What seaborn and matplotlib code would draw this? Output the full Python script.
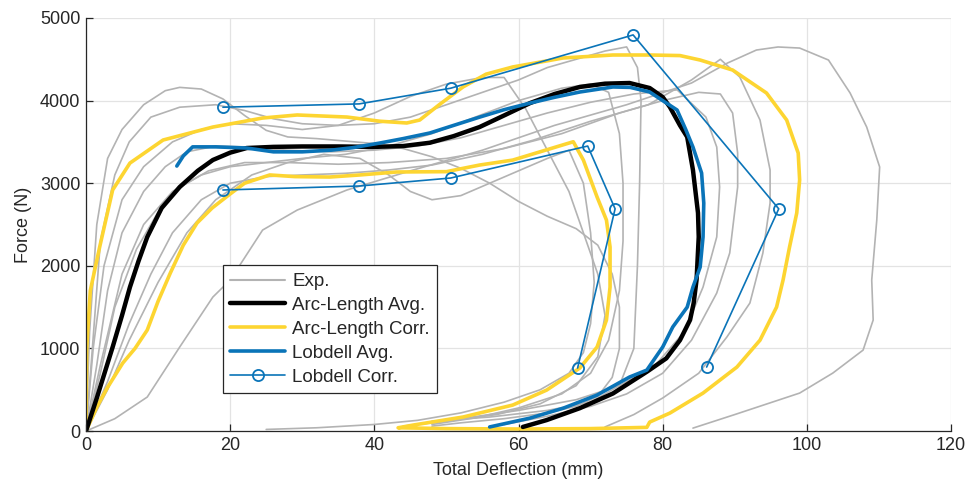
import matplotlib
matplotlib.use("Agg")
import matplotlib.pyplot as plt
import seaborn as sns
import pandas as pd
from matplotlib.lines import Line2D

# ---------------- data ----------------
exp_curves = {
    "G1": ([0, 0.5, 1.5, 3, 5, 8, 11, 13, 16, 19, 22, 25, 28, 32, 36, 40, 44, 48, 52, 56, 60, 64, 68, 71, 73, 74, 74, 73, 71, 68, 64, 58, 52, 48],
           [0, 1200, 2500, 3300, 3650, 3950, 4120, 4160, 4140, 4020, 3820, 3640, 3560, 3540, 3510, 3480, 3420, 3320, 3180, 3000, 2780, 2600, 2450, 2250, 1900, 1500, 1000, 650, 420, 300, 220, 150, 100, 60]),
    "G2": ([0, 0.8, 2, 4, 6, 9, 13, 18, 22, 26, 30, 35, 40, 45, 50, 55, 60, 64, 68, 72, 75, 76.5, 77, 76.8, 76.5, 76, 74, 70, 64, 56, 48],
           [0, 900, 2300, 3100, 3500, 3800, 3920, 3950, 3880, 3780, 3720, 3700, 3720, 3800, 3950, 4100, 4250, 4400, 4500, 4600, 4650, 4400, 4000, 3000, 2000, 1000, 550, 350, 250, 170, 120]),
    "G3": ([0, 1.5, 3, 5, 8, 11, 14, 18, 22, 28, 34, 40, 46, 52, 58, 64, 70, 76, 82, 86, 87.5, 87.9, 87.5, 85.6, 83, 79, 74, 68, 60, 52, 48],
           [0, 800, 1700, 2400, 2900, 3200, 3380, 3450, 3440, 3400, 3380, 3400, 3450, 3550, 3700, 3850, 3980, 4080, 4130, 3800, 3438, 2954, 2350, 1743, 1200, 800, 550, 380, 250, 150, 100]),
    "G4": ([0, 2, 4, 7, 10, 13, 17, 22, 28, 35, 42, 50, 58, 66, 74, 80, 85, 88, 89.7, 90.4, 90.4, 89.3, 87.5, 84, 80, 75, 70, 64, 58],
           [0, 700, 1500, 2200, 2650, 2950, 3150, 3250, 3250, 3230, 3250, 3300, 3420, 3600, 3850, 4000, 4100, 4080, 3850, 3365, 2954, 2155, 1671, 1100, 700, 450, 300, 180, 80]),
    "G5": ([0, 3, 6, 9, 12, 16, 20, 25, 30, 36, 42, 48, 55, 62, 70, 78, 84, 88, 90.7, 93.5, 94.9, 94.9, 93.9, 92.1, 88.9, 85, 80, 76, 72],
           [0, 600, 1300, 1900, 2400, 2800, 3000, 3080, 3100, 3120, 3160, 3220, 3350, 3520, 3750, 3950, 4250, 4500, 4285, 3765, 3160, 2760, 2155, 1550, 1138, 700, 400, 200, 50]),
    "G6": ([0, 3, 6, 10, 14, 18, 23, 28, 33, 38, 42, 45, 48, 52, 56, 60, 64, 67, 69, 70, 70.5, 70, 69, 67, 63, 58, 52, 46, 40, 32, 25],
           [0, 500, 1100, 1800, 2400, 2800, 3100, 3250, 3350, 3300, 3100, 2900, 2800, 2850, 3000, 3150, 3300, 3400, 3000, 2400, 1800, 1300, 950, 700, 500, 350, 220, 130, 80, 40, 20]),
    "G7": ([0, 4, 8.5, 13, 17.6, 20, 24.5, 29.3, 36.2, 45, 55, 65, 75, 84, 89, 93, 96, 99, 103, 106, 108.3, 110.1, 109.7, 109, 109.2, 107.8, 103.6, 99, 90, 84.2],
           [0, 150, 412, 1017, 1622, 1828, 2433, 2675, 2918, 3150, 3400, 3700, 3950, 4213, 4455, 4612, 4649, 4636, 4491, 4092, 3680, 3196, 2554, 1828, 1344, 980, 702, 460, 200, 36]),
    "G8": ([0, 1, 2.5, 5, 8, 12, 16, 20, 25, 30, 35, 40, 45, 50, 55, 58, 61, 64, 67, 69, 71, 72, 71, 68, 63, 57, 50, 44],
           [0, 1000, 2000, 2800, 3200, 3500, 3650, 3720, 3700, 3650, 3700, 3850, 4050, 4200, 4280, 4280, 3900, 3400, 2900, 2400, 1900, 1400, 900, 550, 330, 200, 120, 60]),
    "G9": ([0, 2, 5, 8, 12, 16, 20, 25, 30, 36, 42, 48, 54, 60, 66, 70, 72.5, 74, 74.5, 74.5, 74, 72.5, 70, 66, 60, 54, 48],
           [0, 800, 1900, 2500, 2900, 3100, 3200, 3250, 3300, 3350, 3450, 3600, 3800, 4000, 4150, 4200, 4100, 3600, 3000, 2300, 1700, 1100, 700, 450, 280, 160, 80]),
}

arc_avg_x = [0, 1.5, 3.7, 5, 6.1, 7.3, 8.5, 10.5, 13, 15.5, 17.6, 20, 22.3, 26, 30, 35, 40, 44, 47.7, 51, 54.6, 58, 61.6, 65, 68.5, 72, 75.4, 78.2, 80, 81, 82.4, 83.4, 84.2, 84.9, 85, 84.7, 84.3, 83.8, 82.4, 80.5, 77.8, 73.1, 68.5, 63.9, 60.6]
arc_avg_y = [0, 400, 1017, 1400, 1743, 2060, 2349, 2700, 2954, 3150, 3281, 3370, 3426, 3440, 3445, 3445, 3440, 3450, 3490, 3570, 3680, 3820, 3970, 4080, 4165, 4205, 4213, 4152, 4043, 3922, 3700, 3560, 3160, 2640, 2350, 1830, 1550, 1345, 1100, 880, 718, 455, 277, 133, 50]

arc_corr_x = [0, 0.1, 0.6, 1.9, 3.7, 6.1, 10.7, 17.6, 24.5, 29.3, 36.2, 40.8, 44.5, 46.3, 49, 52.3, 55.5, 59.2, 66.2, 73.1, 78.2, 82.4, 85.2, 89.7, 94.4, 97.2, 98.8, 99, 98.6, 97.6, 96.7, 95.8, 93.5, 90.3, 85.6, 81, 78.2, 77.8, 70, 60, 50, 43.3,
              45.4, 52.3, 59.2, 63.9, 68.5, 70.9, 72.2, 72.7, 72.7, 72.2, 70.9, 69, 67.6, 59.2, 54.6, 50, 43.1, 38, 33.8, 29, 25.5, 22, 20, 17.5, 15.4, 13.5, 11.7, 10, 8.5, 6.8, 5.1, 3, 1.5, 0]
arc_corr_y = [0, 1000, 1700, 2228, 2918, 3244, 3523, 3680, 3789, 3826, 3801, 3750, 3729, 3765, 3950, 4165, 4320, 4407, 4516, 4552, 4552, 4545, 4491, 4370, 4092, 3765, 3365, 3039, 2640, 2228, 1828, 1501, 1100, 775, 460, 218, 109, 45, 30, 25, 30, 40,
              73, 170, 315, 496, 763, 1017, 1344, 1743, 2228, 2554, 2833, 3280, 3502, 3280, 3220, 3140, 3136, 3100, 3075, 3080, 3100, 3000, 2870, 2700, 2518, 2250, 1913, 1570, 1223, 1000, 823, 530, 290, 0]

lob_avg_x = [12.6, 13.5, 14.8, 18, 22.3, 26, 30, 34, 37, 40.8, 44, 47.7, 51, 54.6, 58, 61.6, 65, 68.5, 73.1, 75.5, 78.2, 80, 82, 83.2, 84.2, 85.4, 85.7, 85.6, 85.2, 84.2, 83.4, 81.4, 80, 77.8, 75.4, 70.9, 66.2, 61.6, 56]
lob_avg_y = [3208, 3330, 3440, 3440, 3426, 3380, 3380, 3400, 3430, 3487, 3540, 3608, 3700, 3800, 3890, 3970, 4040, 4104, 4165, 4160, 4104, 4000, 3886, 3650, 3438, 3123, 2760, 2350, 1985, 1743, 1500, 1260, 1017, 738, 654, 436, 277, 157, 50]

lob_corr_upper_x = [19.0, 37.9, 50.6, 75.9, 96.1, 86.1]
lob_corr_upper_y = [3920, 3960, 4150, 4795, 2690, 775]
lob_corr_lower_x = [19.0, 37.9, 50.6, 69.6, 73.4, 68.2]
lob_corr_lower_y = [2918, 2966, 3063, 3450, 2690, 763]

x_ticks = [0, 20, 40, 60, 80, 100, 120]
y_ticks = [0, 1000, 2000, 3000, 4000, 5000]

# ---------------- style ----------------
sns.set_theme(style="whitegrid")
plt.rcParams["font.family"] = ["Liberation Sans", "DejaVu Sans"]

GRAY = "#b3b3b3"
BLACK = "#000000"
YELLOW = "#fdd531"
BLUE = "#0a74b8"

fig = plt.figure(figsize=(9.66, 4.86), dpi=100)
ax = fig.add_axes([0.089, 0.113, 0.8955, 0.85])

def draw(x, y, **kw):
    df = pd.DataFrame({"x": x, "y": y})
    sns.lineplot(data=df, x="x", y="y", sort=False, estimator=None, ax=ax, **kw)

for name, (gx, gy) in exp_curves.items():
    draw(gx, gy, color=GRAY, linewidth=1.2)

draw(arc_corr_x, arc_corr_y, color=YELLOW, linewidth=2.6)
draw(arc_avg_x, arc_avg_y, color=BLACK, linewidth=3.2)
draw(lob_avg_x, lob_avg_y, color=BLUE, linewidth=2.6)
for lx, ly in [(lob_corr_upper_x, lob_corr_upper_y), (lob_corr_lower_x, lob_corr_lower_y)]:
    draw(lx, ly, color=BLUE, linewidth=1.2, marker="o", markersize=8,
         markerfacecolor="none", markeredgecolor=BLUE, markeredgewidth=1.3)

ax.set_xlim(0, 120)
ax.set_ylim(0, 5000)
ax.set_xticks(x_ticks)
ax.set_yticks(y_ticks)
ax.set_xlabel("Total Deflection (mm)", fontsize=13, color="#262626", labelpad=6)
ax.set_ylabel("Force (N)", fontsize=13, color="#262626", labelpad=6)
ax.tick_params(axis="both", direction="in", length=5, width=0.9, colors="#262626",
               labelsize=13, bottom=True, left=True, top=False, right=False, pad=4)
ax.grid(True, color="#e3e3e3", linewidth=0.9)
ax.set_facecolor("white")
for s in ["top", "right"]:
    ax.spines[s].set_visible(False)
for s in ["left", "bottom"]:
    ax.spines[s].set_color("#262626")
    ax.spines[s].set_linewidth(0.9)

handles = [
    Line2D([], [], color=GRAY, linewidth=1.5),
    Line2D([], [], color=BLACK, linewidth=3.2),
    Line2D([], [], color=YELLOW, linewidth=2.6),
    Line2D([], [], color=BLUE, linewidth=2.6),
    Line2D([], [], color=BLUE, linewidth=1.2, marker="o", markersize=8,
           markerfacecolor="none", markeredgewidth=1.3),
]
labels = ["Exp.", "Arc-Length Avg.", "Arc-Length Corr.", "Lobdell Avg.", "Lobdell Corr."]
leg = ax.legend(handles, labels, loc="lower left", bbox_to_anchor=(0.158, 0.092),
                borderaxespad=0, fontsize=13.5, handlelength=2.95, handletextpad=0.35,
                labelspacing=0.36, borderpad=0.4, frameon=True, fancybox=False,
                framealpha=1)
leg.get_frame().set_edgecolor("#262626")
leg.get_frame().set_linewidth(0.9)

fig.savefig("out.png", dpi=100, facecolor="white")
